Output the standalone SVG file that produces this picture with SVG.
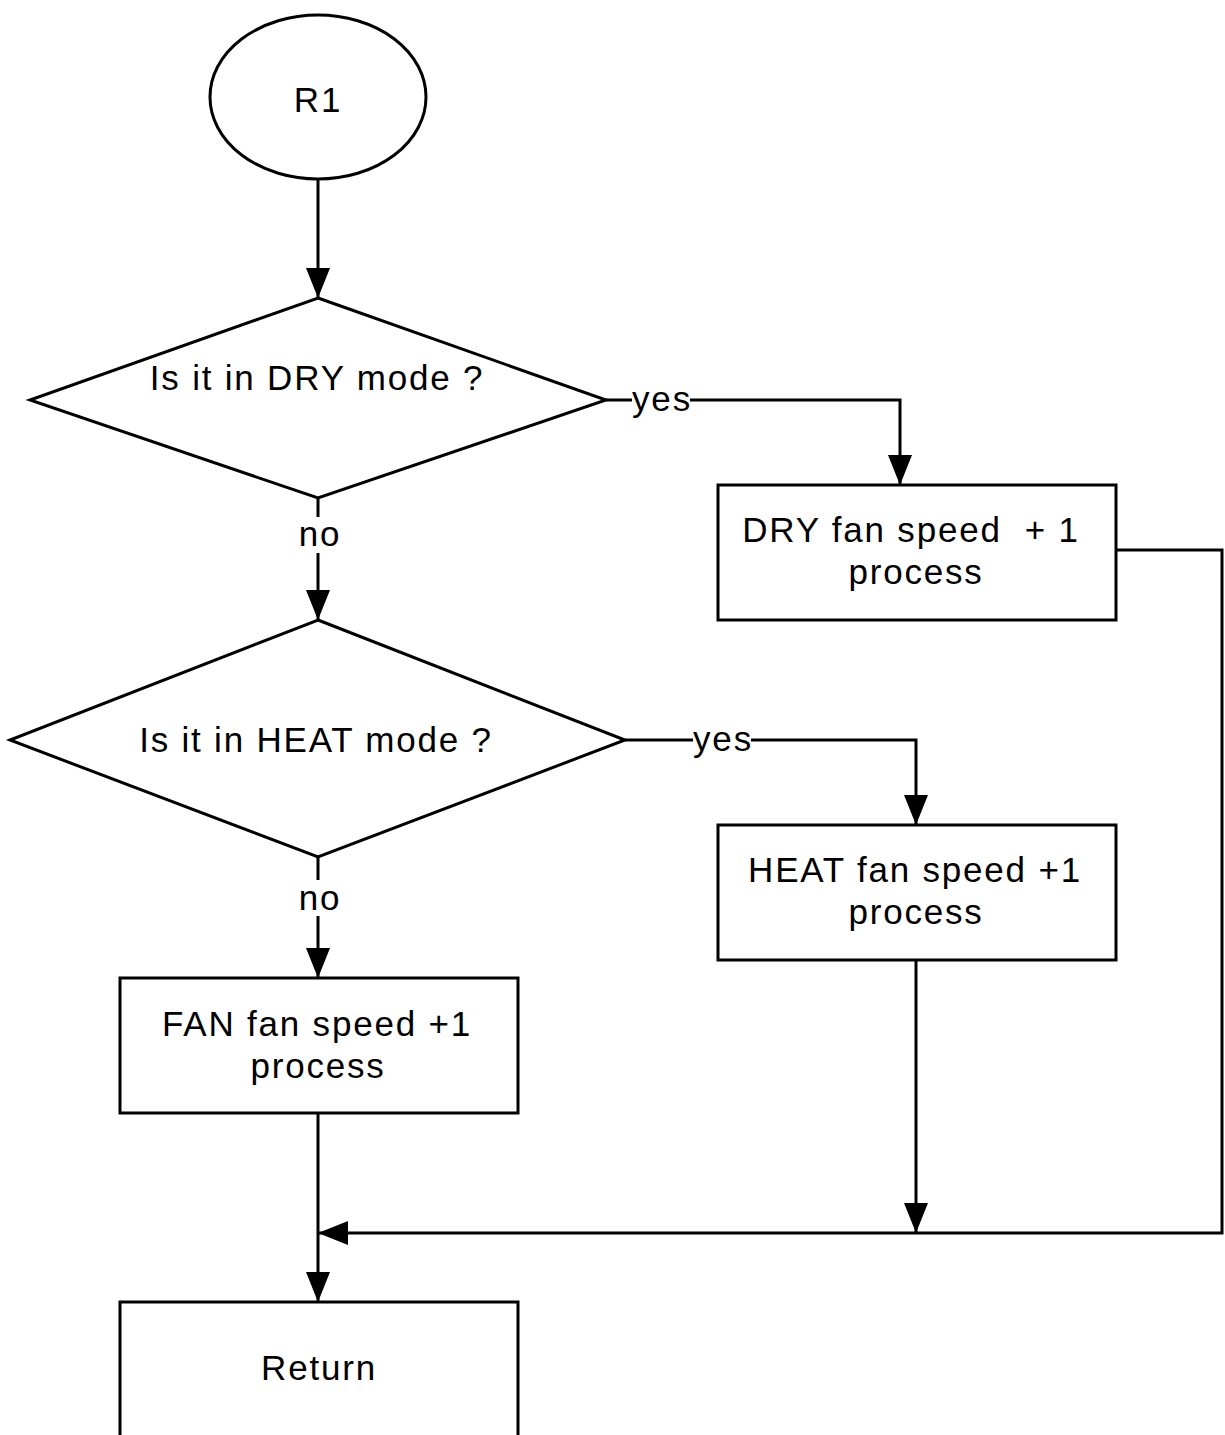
<svg xmlns="http://www.w3.org/2000/svg" width="1225" height="1435" viewBox="0 0 1225 1435">
<style>
.s{fill:#fff;stroke:#000;stroke-width:3}
.c{fill:none;stroke:#000;stroke-width:3}
text{font-family:"Liberation Sans",Arial,sans-serif;font-size:35px;letter-spacing:1.8px;fill:#000;text-anchor:middle}
</style>
<defs>
<marker id="a" markerUnits="userSpaceOnUse" markerWidth="32" markerHeight="24" refX="30" refY="12" orient="auto">
<path d="M0,0 L30,12 L0,24 Z" fill="#000"/>
</marker>
</defs>
<rect width="1225" height="1435" fill="#fff"/>
<g id="connectors">
<path class="c" d="M318,178 V298" marker-end="url(#a)"/>
<path class="c" d="M606,400 H632 M690,400 H900 V485" marker-end="url(#a)"/>
<path class="c" d="M318,498 V517"/>
<path class="c" d="M318,553 V620" marker-end="url(#a)"/>
<path class="c" d="M625,740 H693 M751,740 H916 V825" marker-end="url(#a)"/>
<path class="c" d="M318,857 V880"/>
<path class="c" d="M318,916 V978" marker-end="url(#a)"/>
<path class="c" d="M1116,550 H1222 V1233 H318" marker-end="url(#a)"/>
<path class="c" d="M916,960 V1233" marker-end="url(#a)"/>
<path class="c" d="M318,1113 V1302" marker-end="url(#a)"/>
<text x="662" y="411">yes</text>
<text x="723" y="751">yes</text>
<text x="320" y="546">no</text>
<text x="320" y="910">no</text>
</g>
<g id="start">
<ellipse class="s" cx="318" cy="97" rx="108" ry="82"/>
<text x="318" y="112">R1</text>
</g>
<g id="dry-check">
<path class="s" d="M318,298 L606,400 L318,498 L30,400 Z"/>
<text x="317" y="390">Is it in DRY mode ?</text>
</g>
<g id="dry-process">
<rect class="s" x="718" y="485" width="398" height="135"/>
<text x="911" y="542" xml:space="preserve">DRY fan speed  + 1</text>
<text x="916" y="584">process</text>
</g>
<g id="heat-check">
<path class="s" d="M318,620 L625,740 L318,857 L10,740 Z"/>
<text x="316" y="752">Is it in HEAT mode ?</text>
</g>
<g id="heat-process">
<rect class="s" x="718" y="825" width="398" height="135"/>
<text x="915" y="882">HEAT fan speed +1</text>
<text x="916" y="924">process</text>
</g>
<g id="fan-process">
<rect class="s" x="120" y="978" width="398" height="135"/>
<text x="317" y="1036">FAN fan speed +1</text>
<text x="318" y="1078">process</text>
</g>
<g id="return">
<rect class="s" x="120" y="1302" width="398" height="150"/>
<text x="319" y="1380">Return</text>
</g>
</svg>
